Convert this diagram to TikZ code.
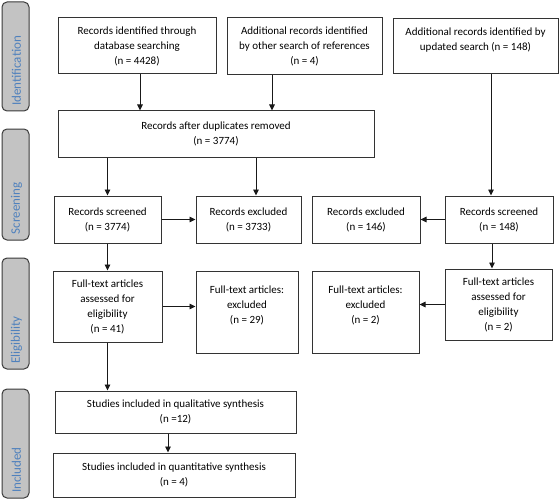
\documentclass[tikz,border=0pt]{standalone}
\usepackage{fontspec}
\setmainfont{Carlito}
\usetikzlibrary{arrows.meta}
\definecolor{barfill}{HTML}{C3C3C3}
\definecolor{barline}{HTML}{3A3A3A}
\definecolor{bartxt}{HTML}{4F81BD}
\definecolor{boxline}{HTML}{333333}
\begin{document}
\begin{tikzpicture}[x=1pt,y=-1pt,
  box/.style={draw=boxline, line width=1pt, fill=white, align=center, inner sep=2pt,
    font=\fontsize{11}{15}\selectfont},
  bar/.style={draw=barline, line width=1pt, fill=barfill, rounded corners=5pt,
    minimum width=27pt, inner sep=0pt},
  bartext/.style={rotate=90, anchor=west, inner sep=0pt, text=bartxt,
    font=\fontsize{13}{15}\selectfont},
  arr/.style={draw=black!90, line width=0.9pt, -{Triangle[length=6pt,width=5.5pt]}},
  ln/.style={draw=black!90, line width=0.9pt}]
\useasboundingbox (0,0) rectangle (559,500);
% side bars
\node[bar, minimum height=109pt] (b1) at (15.5,56.5) {};
\node[bartext] (t1) at (16.5,106) {Identification};
\node[bar, minimum height=111pt] (b2) at (15.5,184.5) {};
\node[bartext] (t2) at (16.5,234.5) {Screening};
\node[bar, minimum height=111pt] (b3) at (15.5,313.5) {};
\node[bartext] (t3) at (16.5,364) {Eligibility};
\node[bar, minimum height=109pt] (b4) at (15.5,443.5) {};
\node[bartext] (t4) at (16.5,493) {Included};
% identification
\node[box, minimum width=158pt, minimum height=56pt] (A) at (137,46)
  {Records identified through\\database searching\\(n = 4428)};
\node[box, minimum width=155pt, minimum height=57pt] (B) at (304.5,46.5)
  {Additional records identified\\by other search of references\\(n = 4)};
\node[box, minimum width=165pt, minimum height=55pt] (C) at (475.5,46.5)
  {Additional records identified by\\updated search (n = 148)\\\mbox{}};
\node[box, minimum width=316pt, minimum height=46pt] (D) at (216,134)
  {Records after duplicates removed\\(n = 3774)};
% screening
\node[box, minimum width=107pt, minimum height=47pt] (S1) at (107.5,219.5)
  {Records screened\\(n = 3774)};
\node[box, minimum width=105pt, minimum height=47pt] (E1) at (248.5,219.5)
  {Records excluded\\(n = 3733)};
\node[box, minimum width=108pt, minimum height=47pt] (E2) at (366,219.5)
  {Records excluded\\(n = 146)};
\node[box, minimum width=108pt, minimum height=47pt] (S2) at (499,219.5)
  {Records screened\\(n = 148)};
% eligibility
\node[box, minimum width=109pt, minimum height=71pt] (F1) at (107.5,306.5)
  {Full-text articles\\assessed for\\eligibility\\(n = 41)};
\node[box, minimum width=102pt, minimum height=82pt] (X1) at (247,312)
  {Full-text articles:\\excluded\\(n = 29)\\\mbox{}};
\node[box, minimum width=107pt, minimum height=82pt] (X2) at (365.5,312)
  {Full-text articles:\\excluded\\(n = 2)\\\mbox{}};
\node[box, minimum width=107pt, minimum height=71pt] (F2) at (498.5,304.5)
  {Full-text articles\\assessed for\\eligibility\\(n = 2)};
% included
\node[box, minimum width=241pt, minimum height=42pt] (Q1) at (175.5,412)
  {Studies included in qualitative synthesis\\(n =12)};
\node[box, minimum width=242pt, minimum height=44pt] (Q2) at (174,475)
  {Studies included in quantitative synthesis\\(n = 4)};
% connectors
\draw[arr] ([xshift=3pt]A.south) -- ([xshift=3pt]A.south |- D.north);
\draw[arr] ([xshift=-32.5pt]B.south) -- ([xshift=-32.5pt]B.south |- D.north);
\draw[arr] ([xshift=15.5pt]C.south) -- ([xshift=15.5pt]C.south |- S2.north);
\draw[arr] (D.south -| S1.north) -- (S1.north);
\draw[arr] ([xshift=7.5pt]E1.north |- D.south) -- ([xshift=7.5pt]E1.north);
\draw[arr] (S1.east) -- (E1.west);
\draw[arr] (S2.west) -- (E2.east);
\draw[arr] (S1.south) -- (F1.north);
\draw[arr] ([xshift=-7pt]S2.south) -- ([xshift=-7pt]S2.south |- F2.north);
\draw[arr] (F1.east) -- (F1.east -| X1.west);
\draw[arr] (F2.west) -- (F2.west -| X2.east);
\draw[arr] (F1.south) -- (F1.south |- Q1.north);
\draw[arr] ([xshift=-7.5pt]Q1.south) -- ([xshift=-7.5pt]Q1.south |- Q2.north);
\end{tikzpicture}
\end{document}
